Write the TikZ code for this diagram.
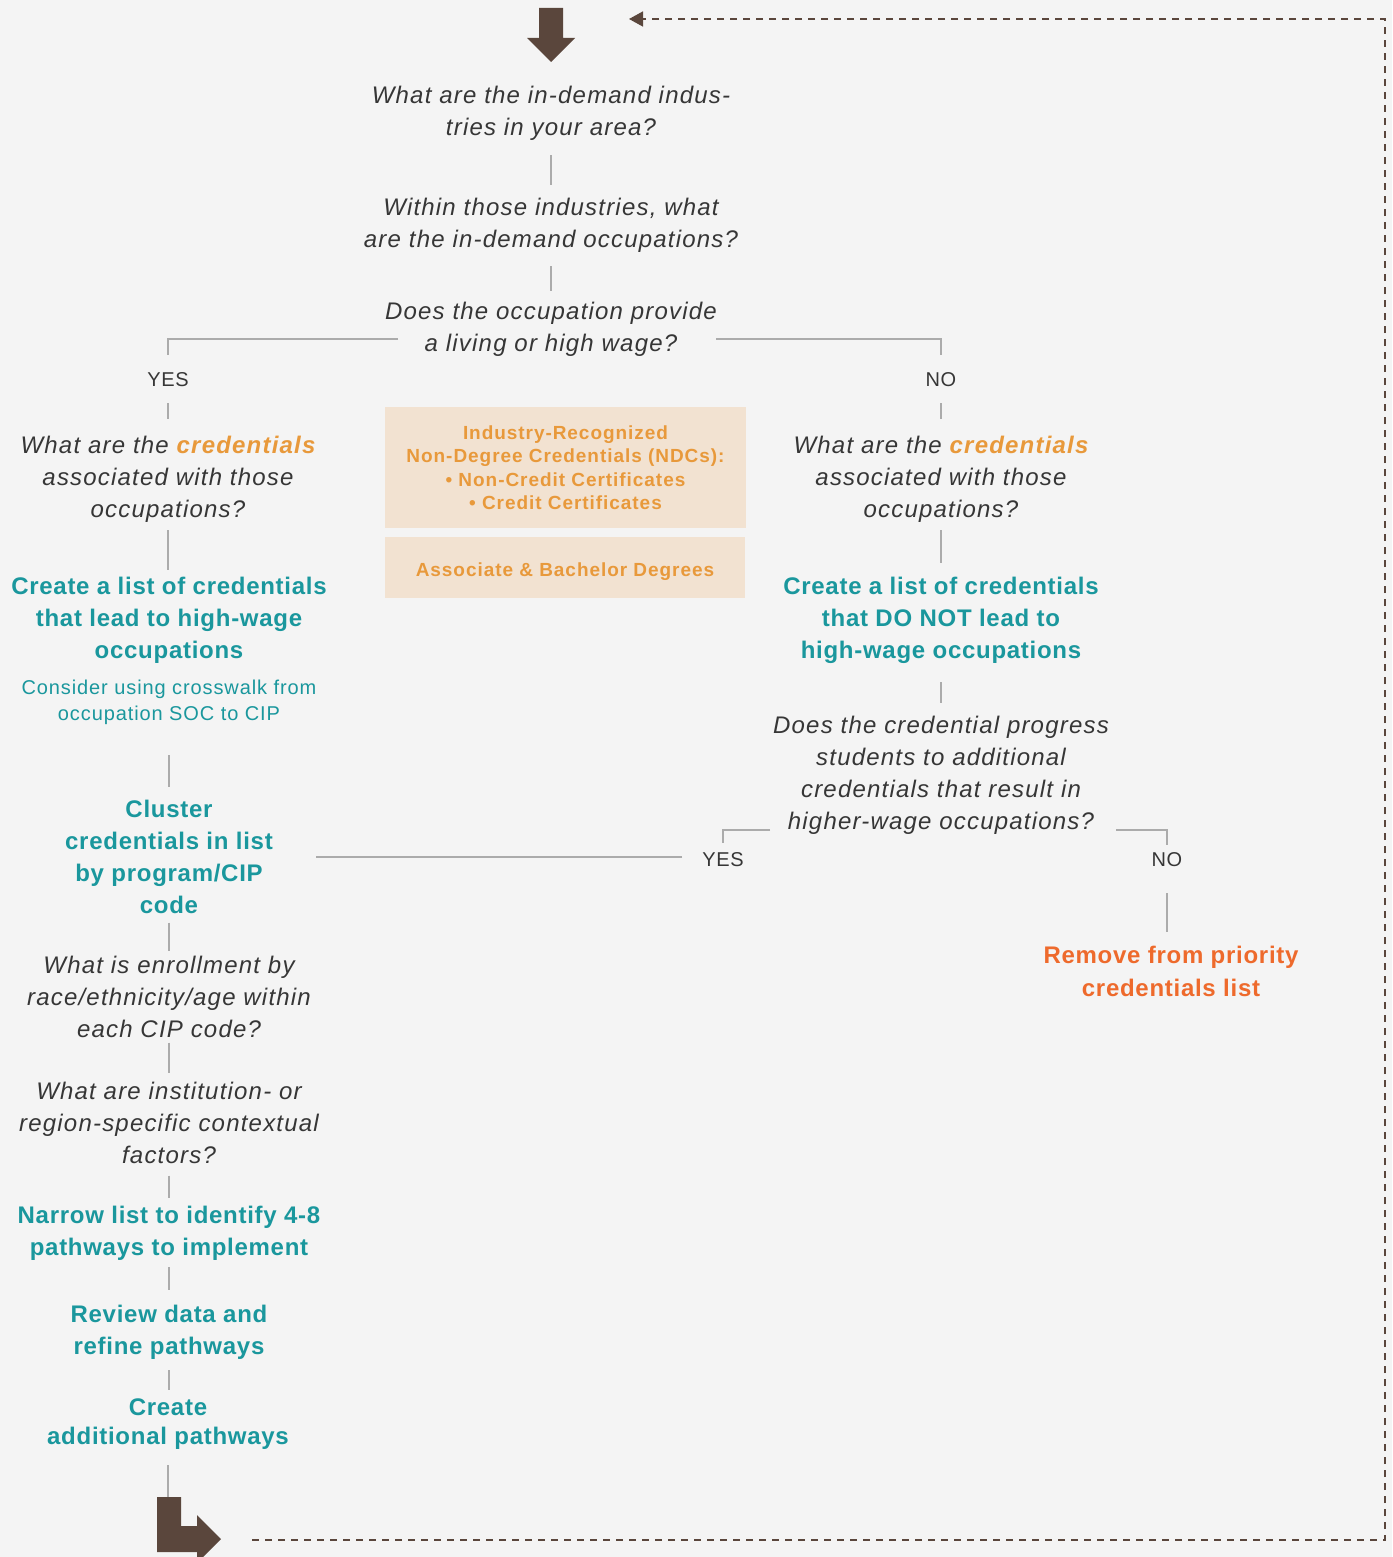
\documentclass[tikz,border=0pt]{standalone}
\usepackage{fontspec}
\setmainfont{Liberation Sans}[LetterSpace=3]
\usetikzlibrary{arrows.meta,calc}
\definecolor{bgc}{HTML}{F4F4F4}
\definecolor{brownc}{HTML}{5A463C}
\definecolor{linec}{HTML}{ABABAB}
\definecolor{qdark}{HTML}{363636}
\definecolor{tealc}{HTML}{1A979D}
\definecolor{orangec}{HTML}{E8993B}
\definecolor{redorc}{HTML}{EE6A2C}
\definecolor{boxc}{HTML}{F2E2D1}
\newcommand{\cred}{\textcolor{orangec}{\bfseries credentials}}
\newcommand{\vlink}[4]{\draw[conn,shorten <=#3pt,shorten >=#4pt] (#1.south) -- (#1.south |- #2.north);}
\tikzset{
  qtext/.style={align=center, inner sep=0pt, text=qdark, font=\fontsize{24}{32}\selectfont\itshape\addfontfeature{LetterSpace=5}},
  tealb/.style={align=center, inner sep=0pt, text=tealc, font=\fontsize{24}{32}\selectfont\bfseries},
  notet/.style={align=center, inner sep=0pt, text=tealc, font=\fontsize{20}{26}\selectfont\addfontfeature{LetterSpace=4.5}},
  redb/.style={align=center, inner sep=0pt, text=redorc, font=\fontsize{24}{33}\selectfont\bfseries},
  yn/.style={inner sep=0pt, text=qdark, font=\fontsize{20}{24}\selectfont},
  orbox/.style={fill=boxc, align=center, inner sep=0pt, text=orangec, font=\fontsize{19}{23.5}\selectfont\bfseries\addfontfeature{LetterSpace=5}},
  conn/.style={draw=linec, line width=1.3pt},
  loopline/.style={draw=brownc, line width=1.5pt, dash pattern=on 7pt off 6pt},
  bigarrow/.style={fill=brownc}
}
\begin{document}
\begin{tikzpicture}[x=1pt,y=-1pt]
\fill[bgc] (0,0) rectangle (1392,1557);
\useasboundingbox (0,0) rectangle (1392,1557);
\clip (0,0) rectangle (1392,1557);

% big arrows
\fill[bigarrow] (539,8) -- (563,8) -- (563,38) -- (575,38) -- (551,62) -- (527,38) -- (539,38) -- cycle;
\fill[bigarrow] (157,1497) -- (181,1497) -- (181,1526) -- (197,1526) -- (197,1515) -- (221,1539) -- (197,1563) -- (197,1552) -- (157,1552) -- cycle;
\coordinate (arrowtop) at (168,1497);
\coordinate (loopStart) at (252,1540);
\coordinate (loopEnd) at (629,19);

% top chain
\node[qtext] (q1) at (551,113) {What are the in-demand indus-\\tries in your area?};
\node[qtext] (q2) at (551,225) {Within those industries, what\\are the in-demand occupations?};
\node[qtext] (q3) at (551,329) {Does the occupation provide\\a living or high wage?};
\node[yn] (yesA) at (168,380) {YES};
\node[yn] (noA) at (941,380) {NO};
\coordinate (q3L) at (398,339);
\coordinate (q3R) at (716,339);

% orange boxes
\node[orbox, minimum width=361pt, minimum height=121pt] (ndc) at (565.5,467.5)
  {Industry-Recognized\\Non-Degree Credentials (NDCs):\\\textbullet\ Non-Credit Certificates\\\textbullet\ Credit Certificates};
\node[orbox, minimum width=360pt, minimum height=61pt, text height=17.7pt, text depth=0pt] (deg) at (565,567.5) {Associate \& Bachelor Degrees};

% left branch
\node[qtext] (credL) at (168,479.7) {What are the \cred\\associated with those\\occupations?};
\node[tealb] (createL) at (169,620) {Create a list of credentials\\that lead to high-wage\\occupations};
\node[notet] (noteL) at (169,702) {Consider using crosswalk from\\occupation SOC to CIP};
\node[tealb] (cluster) at (169,856.5) {Cluster\\credentials in list\\by program/CIP\\code};
\node[qtext] (enroll) at (169,996.7) {What is enrollment by\\race/ethnicity/age within\\each CIP code?};
\node[qtext] (factors) at (169,1122.7) {What are institution- or\\region-specific contextual\\factors?};
\node[tealb] (narrow) at (169,1233) {Narrow list to identify 4-8\\pathways to implement};
\node[tealb] (review) at (169,1332) {Review data and\\refine pathways};
\node[tealb, font=\fontsize{24}{29}\selectfont\bfseries] (createAdd) at (168,1424.5) {Create\\additional pathways};
\coordinate (clusterR) at (316,857);

% right branch
\node[qtext] (credR) at (941,479.7) {What are the \cred\\associated with those\\occupations?};
\node[tealb] (createR) at (941,620) {Create a list of credentials\\that DO NOT lead to\\high-wage occupations};
\node[qtext] (progress) at (941,775.25) {Does the credential progress\\students to additional\\credentials that result in\\higher-wage occupations?};
\node[yn] (yesB) at (723,860) {YES};
\node[yn] (noB) at (1167,860) {NO};
\node[redb] (removeN) at (1171,971.5) {Remove from priority\\credentials list};
\coordinate (progL) at (770,830);
\coordinate (progR) at (1116,830);

% connectors
\vlink{q1}{q2}{15}{13}
\vlink{q2}{q3}{14}{11}
\draw[conn, shorten >=18pt] (q3L) -| (yesA.north);
\draw[conn, shorten >=18pt] (q3R) -| (noA.north);
\vlink{yesA}{credL}{16}{17}
\vlink{noA}{credR}{16}{17}
\vlink{credL}{createL}{7}{7}
\vlink{credR}{createR}{7}{14}
\draw[conn, shorten <=30.5pt, shorten >=12pt] (noteL.south -| cluster.north) -- (cluster.north);
\vlink{createR}{progress}{19}{13}
\draw[conn, shorten >=10pt] (progL) -| (yesB.north);
\draw[conn, shorten >=8pt] (progR) -| (noB.north);
\draw[conn, shorten <=20pt] ([yshift=3pt]yesB.west) -- (clusterR);
\vlink{noB}{removeN}{26}{14}
\vlink{cluster}{enroll}{9}{5}
\vlink{enroll}{factors}{5}{9}
\vlink{factors}{narrow}{12}{8}
\vlink{narrow}{review}{7}{15}
\vlink{review}{createAdd}{11}{9}
\draw[conn, shorten <=15pt] (createAdd.south -| arrowtop) -- (arrowtop);

% dashed feedback loop
\draw[loopline, -{Triangle[length=14pt,width=15pt,fill=brownc]}] (loopStart) -- (1385,1540) -- (1385,19) -- (loopEnd);
\end{tikzpicture}
\end{document}
